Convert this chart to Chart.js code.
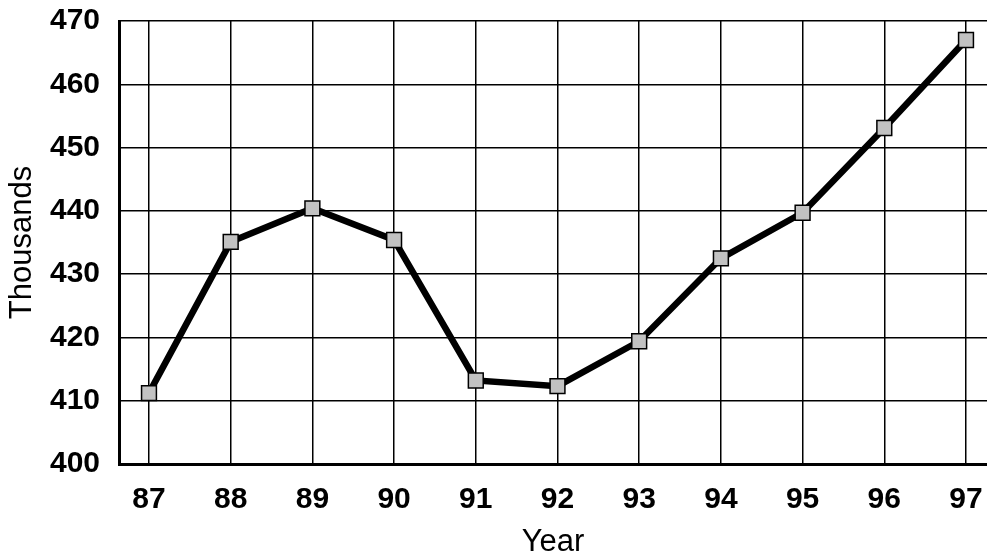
<!DOCTYPE html>
<html>
<head>
<meta charset="utf-8">
<script src="https://cdn.jsdelivr.net/npm/chart.js@4/dist/chart.umd.min.js"></script>
<style>
  body { margin: 0; background: #fff; }
  #wrap { width: 987px; height: 558px; }
</style>
</head>
<body>
<div id="wrap"><canvas id="chart"></canvas></div>
<script>
var years = [87, 88, 89, 90, 91, 92, 93, 94, 95, 96, 97];
var thousands = [411.2, 435.1, 440.4, 435.4, 413.2, 412.3, 419.4, 432.5, 439.7, 453.1, 467.0];
var yTicks = [400, 410, 420, 430, 440, 450, 460, 470];

var points = years.map(function (y, i) { return { x: y, y: thousands[i] }; });

var tickFont = { family: "'Liberation Sans', Arial, sans-serif", size: 30, weight: 'bold' };
var titleFont = { family: "'Liberation Sans', Arial, sans-serif", size: 31 };

var chart = new Chart(document.getElementById('chart'), {
    type: 'line',
    data: {
        datasets: [{
            data: points,
            borderColor: '#000',
            borderWidth: 6.5,
            pointStyle: 'rect',
            pointRadius: 10.5,
            pointBackgroundColor: '#c2c2c2',
            pointBorderColor: '#000',
            pointBorderWidth: 1.5,
            tension: 0,
            clip: false
        }]
    },
    options: {
        responsive: true,
        maintainAspectRatio: false,
        animation: false,
        layout: { autoPadding: false, padding: { top: 21, right: 0, left: 0, bottom: 0 } },
        plugins: { legend: { display: false }, tooltip: { enabled: false } },
        scales: {
            x: {
                type: 'linear',
                min: 86.633,
                max: 97.257,
                afterBuildTicks: function (s) { s.ticks = years.map(function (v) { return { value: v }; }); },
                afterFit: function (s) { s.height = 94; s.paddingRight = 0; s.paddingLeft = 0; },
                grid: { color: '#000', lineWidth: 1.5, drawTicks: false },
                border: { color: '#000', width: 3 },
                ticks: { color: '#000', font: tickFont, padding: 18, maxRotation: 0 },
                title: { display: true, text: 'Year', color: '#000', font: titleFont, padding: { top: 0, bottom: -3 } }
            },
            y: {
                min: 400,
                max: 470,
                afterBuildTicks: function (s) { s.ticks = yTicks.map(function (v) { return { value: v }; }); },
                afterFit: function (s) { s.width = 119; s.paddingTop = 0; s.paddingBottom = 0; },
                grid: { color: '#000', lineWidth: 1.5, drawTicks: false },
                border: { color: '#000', width: 3 },
                ticks: { color: '#000', font: tickFont, padding: 19 },
                title: { display: true, text: 'Thousands', color: '#000', font: titleFont, padding: { top: 4, bottom: 0 } }
            }
        }
    }
});
</script>
</body>
</html>
